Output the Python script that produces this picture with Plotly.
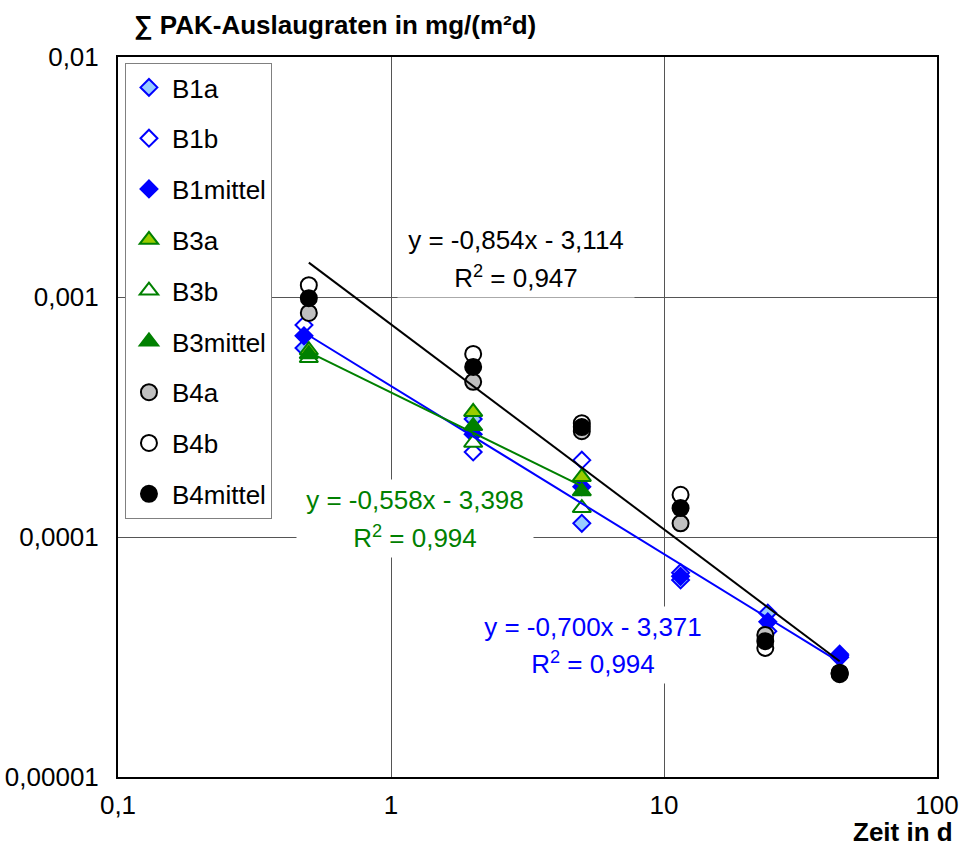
import numpy as np
import plotly.graph_objects as go

# Zeitpunkte in d
t_B1 = [0.48, 2, 5, 11.5, 24, 44]
t_B3 = [0.5, 2, 5]
t_B4 = [0.5, 2, 5, 11.5, 23.5, 44]

# Summe PAK-Auslaugraten in mg/(m²d)
B1a = [0.000613, 0.000310, 0.000114, 0.0000662, 0.0000482, 0.0000325]
B1b = [0.000764, 0.000226, 0.000209, 0.0000710, 0.0000405, 0.0000315]
B1mittel = [0.000689, 0.000268, 0.000162, 0.0000686, 0.0000443, 0.0000320]

B3a = [0.000600, 0.000332, 0.000178]
B3b = [0.000557, 0.000247, 0.000132]
B3mittel = [0.000578, 0.000290, 0.000155]

B4a = [0.000858, 0.000443, 0.000276, 0.000114, 0.0000391, 0.0000268]
B4b = [0.001120, 0.000579, 0.000298, 0.000150, 0.0000345, 0.0000272]
B4mittel = [0.000989, 0.000511, 0.000287, 0.000132, 0.0000368, 0.0000270]

# Potenz-Trendlinien: log10(y) = m * log10(t) + b
trend_B1 = (-0.700, -3.371, 0.994)
trend_B3 = (-0.558, -3.398, 0.994)
trend_B4 = (-0.854, -3.114, 0.947)

x_tickvals = [0.1, 1, 10, 100]
x_ticktext = ["0,1", "1", "10", "100"]
y_tickvals = [0.00001, 0.0001, 0.001, 0.01]
y_ticktext = ["0,00001", "0,0001", "0,001", "0,01"]

BLUE = "#0000FF"
LIGHTBLUE = "#99CCFF"
GREEN = "#008000"
YELLOWGREEN = "#99CC00"
GREY = "#C0C0C0"
FONT = "Liberation Sans, Arial, sans-serif"
FS = 26

fig = go.Figure()

series = [
    ("B1a", t_B1, B1a, "diamond", LIGHTBLUE, BLUE, 13),
    ("B1b", t_B1, B1b, "diamond", "white", BLUE, 13),
    ("B1mittel", t_B1, B1mittel, "diamond", BLUE, BLUE, 13),
    ("B3a", t_B3, B3a, "triangle-up", YELLOWGREEN, GREEN, 16),
    ("B3b", t_B3, B3b, "triangle-up", "white", GREEN, 16),
    ("B3mittel", t_B3, B3mittel, "triangle-up", GREEN, GREEN, 16),
    ("B4a", t_B4, B4a, "circle", GREY, "black", 16),
    ("B4b", t_B4, B4b, "circle", "white", "black", 16),
    ("B4mittel", t_B4, B4mittel, "circle", "black", "black", 16),
]

for name, t, vals, sym, fill, edge, size in series:
    fig.add_trace(go.Scatter(
        x=t, y=vals, mode="markers", name=name,
        legendgroup=name,
        marker=dict(symbol=sym, size=size, color=fill,
                    line=dict(color=edge, width=2)),
    ))

# Trendlinien über den Datenbereich
for t, (m, b, _), col in [(t_B1, trend_B1, BLUE),
                          (t_B3, trend_B3, GREEN),
                          (t_B4, trend_B4, "black")]:
    tx = np.geomspace(min(t), max(t), 20)
    ty = 10 ** (m * np.log10(tx) + b)
    fig.add_trace(go.Scatter(x=tx, y=ty, mode="lines", showlegend=False,
                             line=dict(color=col, width=2), hoverinfo="skip"))


def fmt(v, nd=3):
    return f"{v:.{nd}f}".replace(".", ",")


def eq_label(trend, col, xc, y1, y2):
    m, b, r2 = trend
    sign = "-" if b < 0 else "+"
    line1 = f"y = {fmt(m)}x {sign} {fmt(abs(b))}"
    line2 = f"R<sup>2</sup> = {fmt(r2)}"
    for txt, yy in [(line1, y1), (line2, y2)]:
        fig.add_annotation(x=xc, y=yy, xref="x", yref="y", text=txt,
                           showarrow=False, font=dict(family=FONT, size=FS, color=col),
                           bgcolor="white", width=234, height=38, borderpad=1)


eq_label(trend_B4, "black", 0.458, -2.7625, -2.9167)
eq_label(trend_B3, GREEN, 0.088, -3.846, -4.0)
eq_label(trend_B1, BLUE, 0.740, -4.375, -4.525)

fig.add_annotation(x=0.017, y=1.044, xref="paper", yref="paper",
                   text="<b>∑ PAK-Auslaugraten in mg/(m²d)</b>", showarrow=False,
                   xanchor="left", yanchor="middle",
                   font=dict(family=FONT, size=FS, color="black"))
fig.add_annotation(x=1.022, y=-0.0764, xref="paper", yref="paper",
                   text="<b>Zeit in d</b>", showarrow=False,
                   xanchor="right", yanchor="middle",
                   font=dict(family=FONT, size=FS, color="black"))

fig.update_xaxes(type="log", range=[-1, 2], tickvals=x_tickvals, ticktext=x_ticktext,
                 showgrid=True, gridcolor="#555555", gridwidth=1,
                 showline=True, linecolor="black", linewidth=2, mirror=True,
                 ticks="outside", ticklen=4, tickcolor="rgba(0,0,0,0)",
                 tickfont=dict(family=FONT, size=FS, color="black"),
                 zeroline=False, automargin=False)
fig.update_yaxes(type="log", range=[-5, -2], tickvals=y_tickvals, ticktext=y_ticktext,
                 showgrid=True, gridcolor="#555555", gridwidth=1,
                 showline=True, linecolor="black", linewidth=2, mirror=True,
                 ticks="outside", ticklen=12, tickcolor="rgba(0,0,0,0)",
                 tickfont=dict(family=FONT, size=FS, color="black"),
                 zeroline=False, automargin=False)

fig.update_layout(
    width=960, height=848,
    margin=dict(l=118, r=23, t=57, b=71, autoexpand=False),
    paper_bgcolor="white", plot_bgcolor="white",
    font=dict(family=FONT, size=FS, color="black"),
    showlegend=True,
    legend=dict(x=0.0085, y=0.9917, xanchor="left", yanchor="top",
                bgcolor="white", bordercolor="#808080", borderwidth=1,
                traceorder="grouped", tracegroupgap=14, itemwidth=36,
                entrywidth=170, entrywidthmode="pixels",
                font=dict(family=FONT, size=FS, color="black")),
)

fig.write_html("out.html")
